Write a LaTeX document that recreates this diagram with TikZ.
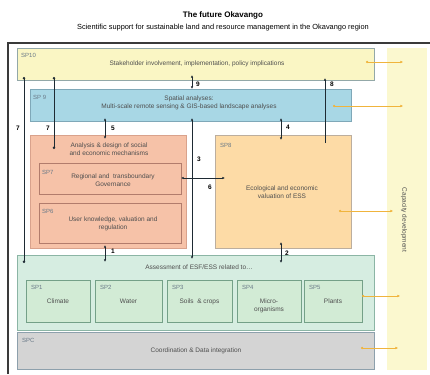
\documentclass[tikz,border=0pt]{standalone}
\usepackage{fontspec}
\setmainfont{Liberation Sans}
\usetikzlibrary{positioning,arrows.meta}
\definecolor{OkaFrame}{HTML}{3A3A3A}
\definecolor{OkaText}{HTML}{4E4E4E}
\definecolor{OkaTag}{HTML}{6A7A88}
\definecolor{OkaYellow}{HTML}{FAF6C4}
\definecolor{OkaCap}{HTML}{FBF8CF}
\definecolor{OkaBlue}{HTML}{A8D7E5}
\definecolor{OkaBlueEdge}{HTML}{7FA8B8}
\definecolor{OkaSalmon}{HTML}{F6C2A8}
\definecolor{OkaSalmonEdge}{HTML}{D9A28C}
\definecolor{OkaRust}{HTML}{B27C6C}
\definecolor{OkaPeach}{HTML}{FDDBA6}
\definecolor{OkaPeachEdge}{HTML}{BCAE9E}
\definecolor{OkaMint}{HTML}{D6EDE1}
\definecolor{OkaMintEdge}{HTML}{8BB5A5}
\definecolor{OkaGreen}{HTML}{D2EBD5}
\definecolor{OkaGreenEdge}{HTML}{74A088}
\definecolor{OkaGray}{HTML}{D4D4D4}
\definecolor{OkaGrayEdge}{HTML}{8DA0AC}
\definecolor{OkaEdge}{HTML}{93A8A8}
\definecolor{OkaOrange}{HTML}{F0B43C}
\definecolor{OkaLink}{HTML}{1E2A33}

\begin{document}
\begin{tikzpicture}[x=1pt,y=-1pt,font=\fontsize{6.5}{7.8}\selectfont,
  box/.style={draw=#1,line width=0.8pt,anchor=north west,inner sep=0pt},
  tag/.style={anchor=west,inner sep=0pt,text=OkaTag,font=\fontsize{6}{7}\selectfont},
  txt/.style={align=center,inner sep=0pt,text=OkaText},
  num/.style={inner sep=0pt,font=\fontsize{6.5}{7}\selectfont\bfseries},
  link/.style={draw=OkaLink,line width=0.7pt,{Latex[length=2.6pt,width=2.4pt]}-{Latex[length=2.6pt,width=2.4pt]}},
  dotlink/.style={draw=OkaLink,line width=0.7pt,{Circle[length=2.6pt]}-{Circle[length=2.6pt]}},
  caparrow/.style={draw=OkaOrange,line width=0.8pt,{Circle[length=2.2pt]}-{Latex[length=2.6pt,width=2.6pt]}}]
  \useasboundingbox[fill=white] (0,0) rectangle (430,374);

  % title
  \node[inner sep=0pt,font=\fontsize{8}{9}\selectfont\bfseries] (title) at (223,15) {The future Okavango};
  \node[inner sep=0pt,font=\fontsize{7.4}{9}\selectfont] (subtitle) at (223,28)
     {Scientific support for sustainable land and resource management in the Okavango region};

  % frame and capacity strip
  \draw[OkaFrame,line width=1.6pt] (8,374) -- (8,43) -- (430,43);
  \fill[OkaCap] (387,48) rectangle (427,370);
  \node[txt,rotate=-90] (capdev) at (404,220) {Capacity development};

  % boxes
  \node[box=OkaEdge,fill=OkaYellow,minimum width=357pt,minimum height=32pt] (sp10) at (17,48) {};
  \node[box=OkaBlueEdge,fill=OkaBlue,minimum width=321pt,minimum height=32pt] (sp9) at (30,89) {};
  \node[box=OkaSalmonEdge,fill=OkaSalmon,minimum width=156pt,minimum height=113pt] (sp67) at (30,135) {};
  \node[box=OkaRust,fill=OkaSalmon,minimum width=142pt,minimum height=31pt] (sp7) at (39,163) {};
  \node[box=OkaRust,fill=OkaSalmon,minimum width=142pt,minimum height=40pt] (sp6) at (39,203) {};
  \node[box=OkaPeachEdge,fill=OkaPeach,minimum width=136pt,minimum height=113pt] (sp8) at (215,135) {};
  \node[box=OkaMintEdge,fill=OkaMint,minimum width=357pt,minimum height=75pt] (assess) at (17,255) {};
  \node[box=OkaGrayEdge,fill=OkaGray,minimum width=357pt,minimum height=37pt] (spc) at (17,332) {};

  % SP1 .. SP5
  \foreach \n/\xa/\w/\lab in {1/26/64/Climate,2/95/67/Water,3/167/65/{Soils \ \& crops},
                              4/237/64/{Micro-\\organisms},5/304/58/Plants}{
     \node[box=OkaGreenEdge,fill=OkaGreen,minimum width=\w pt,minimum height=42pt] (sp\n) at (\xa,280) {};
     \node[tag] (sp\n tag) at (\xa+5,287) {SP\n};
     \node[txt,anchor=north] (sp\n txt) at ({\xa+\w/2},298.5) {\lab};
  }

  % texts
  \node[tag] (sp10tag) at (21,55) {SP10};
  \node[txt] (sp10txt) at (197,64) {Stakeholder involvement, implementation, policy implications};
  \node[tag] (sp9tag) at (33,97) {SP 9};
  \node[txt] (sp9txt) at (189,102.5) {Spatial analyses:\\Multi-scale remote sensing \& GIS-based landscape analyses};
  \node[txt] (sp67txt) at (109,149) {Analysis \& design of social\\and economic mechanisms};
  \node[tag] (sp7tag) at (42,172) {SP7};
  \node[txt] (sp7txt) at (113,180) {Regional and \ transboundary\\Governance};
  \node[tag] (sp6tag) at (42,211) {SP6};
  \node[txt] (sp6txt) at (113,223.5) {User knowledge, valuation and\\regulation};
  \node[tag] (sp8tag) at (220,145) {SP8};
  \node[txt] (sp8txt) at (282,192) {Ecological and economic\\valuation of ESS};
  \node[txt] (assesstxt) at (199,267) {Assessment of ESF/ESS related to\dots};
  \node[tag] (spctag) at (22,340) {SPC};
  \node[txt] (spctxt) at (196,351) {Coordination \& Data integration};

  % connector ends
  \coordinate (a7t) at (24,77);   \coordinate (a7b) at (24,263);
  \coordinate (b7t) at (54,77);   \coordinate (b7b) at (54,149);
  \coordinate (c5t) at (105,118); \coordinate (c5b) at (105,139);
  \coordinate (d9t) at (192,75);  \coordinate (d9b) at (192,89);
  \coordinate (e3t) at (192,118); \coordinate (e3b) at (192,259);
  \coordinate (f6l) at (181,178); \coordinate (f6r) at (225,178);
  \coordinate (g4t) at (281,118); \coordinate (g4b) at (281,140);
  \coordinate (h8t) at (325,78);  \coordinate (h8b) at (325,143);
  \coordinate (i1t) at (105,245); \coordinate (i1b) at (105,262);
  \coordinate (j2t) at (281,242); \coordinate (j2b) at (281,263);

  % black links
  \draw[dotlink] (a7t) -- (a7b);
  \draw[dotlink] (b7t) -- (b7b);
  \draw[link] (c5t) -- (c5b);
  \draw[link] (d9b) -- (d9t);
  \draw[link] (e3t) -- (e3b);
  \draw[link] (f6l) -- (f6r);
  \draw[link] (g4t) -- (g4b);
  \draw[OkaLink,line width=0.7pt,-{Latex[length=2.6pt,width=2.4pt]}] (h8b) -- (h8t);
  \draw[link] (i1t) -- (i1b);
  \draw[link] (j2t) -- (j2b);
  \foreach \lab/\x/\y in {7/18/128,7/48/128,5/113/128,9/198/84,3/199/159,
                          6/210/187,4/288/127,8/332/84,1/113/251,2/287/253}{
     \node[num] at (\x,\y) {\lab};}

  % capacity arrows
  \coordinate (k1s) at (366,62);  \coordinate (k1e) at (403,62);
  \coordinate (k2s) at (333,106); \coordinate (k2e) at (403,106);
  \coordinate (k3s) at (339,211); \coordinate (k3e) at (393,211);
  \coordinate (k4s) at (362,296); \coordinate (k4e) at (400,296);
  \coordinate (k5s) at (361,348); \coordinate (k5e) at (398,348);
  \foreach \k in {1,...,5}{\draw[caparrow] (k\k s) -- (k\k e);}
\end{tikzpicture}
\end{document}
